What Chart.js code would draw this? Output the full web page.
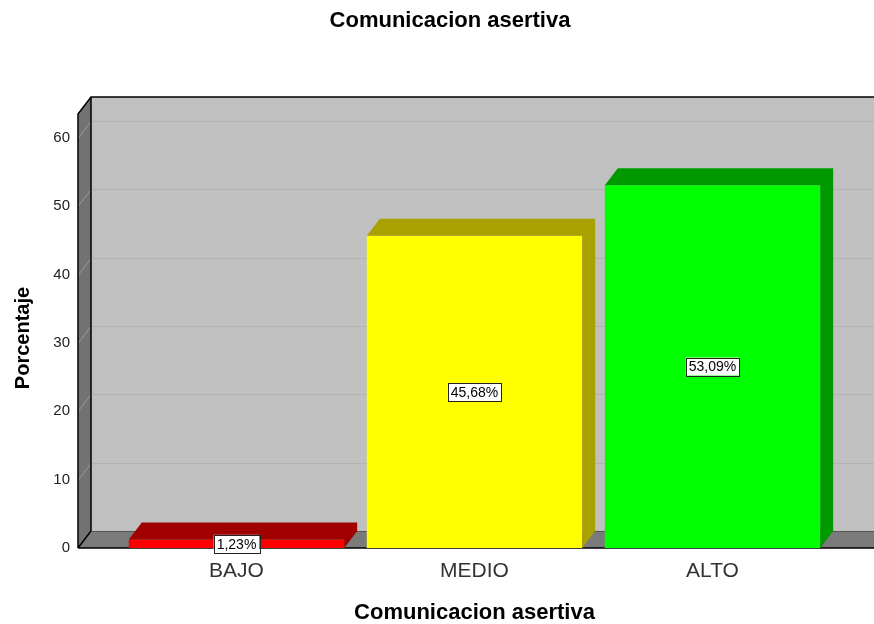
<!DOCTYPE html>
<html>
<head>
<meta charset="utf-8">
<script src="https://cdn.jsdelivr.net/npm/chart.js@4"></script>
<style>
  body { margin: 0; background: #fff; }
  #wrap { width: 874px; height: 624px; }
</style>
</head>
<body>
<div id="wrap"><canvas id="asertiva"></canvas></div>
<script>
var categories = ["BAJO", "MEDIO", "ALTO"];
var porcentajes = [1.23, 45.68, 53.09];
var yTicks = [0, 10, 20, 30, 40, 50, 60];

var frontColors = ["#ff0000", "#ffff00", "#00ff00"];
var shadeColors = ["#a00000", "#a9a100", "#009a00"];

// 3d depth offset, pixels
var DX = 13, DY = -17;
var WALL_X = 78;
var font = "'Liberation Sans', Arial, sans-serif";

const box3d = {
    id: "box3d",
    beforeDatasetsDraw(chart) {
        const ctx = chart.ctx;
        const area = chart.chartArea;
        const ys = chart.scales.y;
        const W = chart.width;
        const top = area.top, bot = area.bottom;
        ctx.save();
        // back wall
        ctx.fillStyle = "#c0c0c0";
        ctx.fillRect(WALL_X + DX, top + DY, W - WALL_X - DX, bot - top);
        // left wall
        ctx.fillStyle = "#727272";
        ctx.beginPath();
        ctx.moveTo(WALL_X, top);
        ctx.lineTo(WALL_X + DX, top + DY);
        ctx.lineTo(WALL_X + DX, bot + DY);
        ctx.lineTo(WALL_X, bot);
        ctx.closePath();
        ctx.fill();
        // floor
        ctx.fillStyle = "#7a7a7a";
        ctx.beginPath();
        ctx.moveTo(WALL_X, bot);
        ctx.lineTo(WALL_X + DX, bot + DY);
        ctx.lineTo(W, bot + DY);
        ctx.lineTo(W, bot);
        ctx.closePath();
        ctx.fill();
        // grid lines
        ctx.lineWidth = 1;
        yTicks.forEach(v => {
            if (v === 0) return;
            const py = Math.round(ys.getPixelForValue(v)) + 0.5;
            ctx.strokeStyle = "#b2b2b2";
            ctx.beginPath();
            ctx.moveTo(WALL_X + DX, py + DY);
            ctx.lineTo(W, py + DY);
            ctx.stroke();
            ctx.strokeStyle = "#9a9a9a";
            ctx.beginPath();
            ctx.moveTo(WALL_X, py);
            ctx.lineTo(WALL_X + DX, py + DY);
            ctx.stroke();
        });
        // outlines
        ctx.strokeStyle = "#000";
        ctx.lineWidth = 1.5;
        ctx.beginPath();
        ctx.moveTo(WALL_X, bot);
        ctx.lineTo(WALL_X, top);
        ctx.lineTo(WALL_X + DX, top + DY);
        ctx.lineTo(W, top + DY);
        ctx.moveTo(WALL_X + DX, top + DY);
        ctx.lineTo(WALL_X + DX, bot + DY);
        ctx.lineTo(WALL_X, bot);
        ctx.moveTo(WALL_X, bot);
        ctx.lineTo(W, bot);
        ctx.stroke();
        ctx.strokeStyle = "#555";
        ctx.lineWidth = 1;
        ctx.beginPath();
        ctx.moveTo(WALL_X + DX, bot + DY + 0.5);
        ctx.lineTo(W, bot + DY + 0.5);
        ctx.stroke();
        ctx.restore();
    },
    afterDatasetsDraw(chart) {
        const ctx = chart.ctx;
        const ys = chart.scales.y;
        const meta = chart.getDatasetMeta(0);
        ctx.save();
        meta.data.forEach((bar, i) => {
            const p = bar.getProps(["x", "y", "base", "width"], true);
            const l = p.x - p.width / 2, r = p.x + p.width / 2;
            // top + right side
            ctx.fillStyle = shadeColors[i];
            ctx.beginPath();
            ctx.moveTo(l, p.y);
            ctx.lineTo(l + DX, p.y + DY);
            ctx.lineTo(r + DX, p.y + DY);
            ctx.lineTo(r + DX, p.base + DY);
            ctx.lineTo(r, p.base);
            ctx.lineTo(r, p.y);
            ctx.closePath();
            ctx.fill();
        });
        // value labels
        ctx.font = "14px " + font;
        ctx.textAlign = "center";
        ctx.textBaseline = "middle";
        meta.data.forEach((bar, i) => {
            const txt = porcentajes[i].toFixed(2).replace(".", ",") + "%";
            const cx = bar.x;
            const cy = ys.getPixelForValue(porcentajes[i] / 2);
            const w = ctx.measureText(txt).width + 6;
            const h = 18;
            ctx.fillStyle = "#fff";
            ctx.fillRect(cx - w / 2, cy - h / 2, w, h);
            ctx.strokeStyle = "#222";
            ctx.lineWidth = 1;
            ctx.strokeRect(Math.round(cx - w / 2) + 0.5, Math.round(cy - h / 2) + 0.5, Math.round(w), h);
            ctx.fillStyle = "#000";
            ctx.fillText(txt, cx, cy + 1);
        });
        ctx.restore();
    },
    afterDraw(chart) {
        const ctx = chart.ctx;
        ctx.save();
        ctx.fillStyle = "#000";
        ctx.textAlign = "center";
        ctx.textBaseline = "middle";
        ctx.font = "bold 22px " + font;
        ctx.fillText("Comunicacion asertiva", 450, 21);
        // y axis title
        ctx.font = "bold 20px " + font;
        ctx.translate(23, 338);
        ctx.rotate(-Math.PI / 2);
        ctx.fillText("Porcentaje", 0, 0);
        ctx.restore();
    }
};

const grafico = new Chart(document.getElementById("asertiva"), {
    type: "bar",
    data: {
        labels: categories,
        datasets: [{
            data: porcentajes,
            backgroundColor: frontColors,
            borderWidth: 0,
            barPercentage: 0.905,
            categoryPercentage: 1
        }]
    },
    options: {
        animation: false,
        responsive: true,
        maintainAspectRatio: false,
        layout: { padding: { top: 114, right: 42.5, bottom: 0, left: 0 } },
        plugins: {
            legend: { display: false },
            tooltip: { enabled: false },
            title: { display: false }
        },
        scales: {
            x: {
                grid: { display: false },
                border: { display: false },
                ticks: { color: "#333", font: { family: font, size: 21 }, padding: 3 },
                title: {
                    display: true,
                    text: "Comunicacion asertiva",
                    color: "#000",
                    font: { family: font, size: 22, weight: "bold", lineHeight: 1.05 },
                    padding: { top: 0, bottom: 0 }
                },
                afterFit: (s) => { s.height = 76; }
            },
            y: {
                min: 0,
                max: 63.5,
                grid: { display: false },
                border: { display: false },
                ticks: { color: "#222", font: { family: font, size: 15 }, padding: 39.5 },
                afterBuildTicks: (s) => { s.ticks = yTicks.map(v => ({ value: v })); },
                afterFit: (s) => { s.width = 117.5; }
            }
        }
    },
    plugins: [box3d]
});
</script>
</body>
</html>
